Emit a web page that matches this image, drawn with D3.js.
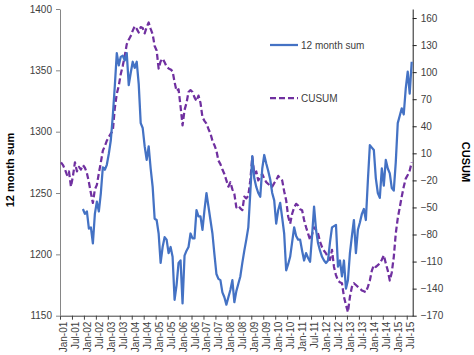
<!DOCTYPE html>
<html>
<head>
<meta charset="utf-8">
<script src="https://cdn.jsdelivr.net/npm/d3@7"></script>
<style>
  html, body { margin: 0; padding: 0; background: #fff; }
  svg { display: block; font-family: "Liberation Sans", Arial, sans-serif; }
</style>
</head>
<body>
<svg id="chart" width="474" height="355"></svg>
<script>
// Month index 0 = Jan-01 ... 176 = Sep-15
const monthCount = 177;
const tickLabels = ["Jan-01","Jul-01","Jan-02","Jul-02","Jan-03","Jul-03","Jan-04","Jul-04",
  "Jan-05","Jul-05","Jan-06","Jul-06","Jan-07","Jul-07","Jan-08","Jul-08","Jan-09","Jul-09",
  "Jan-10","Jul-10","Jan-11","Jul-11","Jan-12","Jul-12","Jan-13","Jul-13","Jan-14","Jul-14",
  "Jan-15","Jul-15"];
const leftTicks = [1150, 1200, 1250, 1300, 1350, 1400];
const rightTicks = [-170, -140, -110, -80, -50, -20, 10, 40, 70, 100, 130, 160];

// 12 month sum, starts at month 11 (Dec-01)
const sumStart = 11;
const sumValues = [
  1237,1233,1235,1221,1222,1209,1233,1243,1235,1250,1271,1269,1273,1282,1293,1313,1337,1364,1354,1361,
  1362,1358,1364,1338,1348,1357,1352,1357,1339,1307,1303,1288,1277,1288,1270,1255,1229,1228,1217,1193,
  1206,1214,1212,1201,1206,1198,1163,1175,1193,1195,1160,1199,1203,1206,1217,1213,1213,1236,1231,1231,
  1220,1236,1250,1239,1228,1217,1200,1184,1180,1179,1169,1165,1159,1165,1171,1179,1161,1170,1176,1182,
  1193,1203,1212,1222,1250,1280,1262,1255,1250,1247,1270,1281,1274,1268,1261,1250,1244,1225,1236,1242,
  1230,1217,1187,1192,1198,1210,1222,1215,1212,1212,1203,1195,1201,1197,1194,1215,1239,1220,1209,1203,
  1198,1195,1193,1195,1210,1222,1223,1224,1190,1195,1182,1195,1172,1179,1201,1215,1228,1201,1220,1226,
  1233,1237,1228,1260,1289,1287,1285,1262,1250,1246,1270,1256,1277,1270,1266,1254,1252,1275,1307,1313,
  1319,1314,1335,1349,1331,1357
];

// CUSUM, starts at month 0 (Jan-01)
const cusumValues = [
  0,-3,-8,-14,-10,-27,-15,0,-10,-5,-8,-3,-6,-12,-22,-34,-45,-30,-25,-12,
  0,13,18,24,28,32,35,60,76,85,98,107,118,131,136,140,146,151,148,144,
  150,149,143,150,155,148,142,129,124,104,112,115,111,106,104,103,101,89,79,81,
  62,41,58,66,78,80,78,72,68,74,66,50,46,43,37,32,24,19,13,2,
  -2,-8,-13,-20,-27,-22,-30,-35,-50,-48,-51,-53,-38,-40,-37,-20,6,-13,-10,-20,
  -16,-13,-18,-22,-24,-26,-27,-23,-20,-15,-18,-20,-32,-42,-60,-68,-57,-50,-46,-48,
  -52,-53,-64,-72,-79,-86,-80,-72,-75,-79,-88,-94,-98,-101,-105,-108,-97,-116,-125,-131,
  -133,-134,-149,-158,-166,-149,-138,-134,-136,-138,-140,-142,-143,-144,-138,-131,-120,-114,-116,-114,
  -112,-108,-103,-112,-120,-131,-122,-105,-79,-62,-50,-38,-27,-18,-14,-9,0
];

const seriesNames = ["12 month sum", "CUSUM"];
const colors = { sum: "#4472C4", cusum: "#7030A0" };

const svg = d3.select("#chart");
const plotL = 60, plotR = 412.7, plotT = 9, plotB = 315.7;

const x = d3.scaleLinear().domain([0, monthCount]).range([plotL, plotR]);
const yL = d3.scaleLinear().domain([1150, 1400]).range([plotB, plotT]);
const yR = d3.scaleLinear().domain([-170, 170]).range([plotB, plotT]);

const sumData = sumValues.map((v, k) => ({ i: sumStart + k, v }));
const cusumData = cusumValues.map((v, k) => ({ i: k, v }));

// Axes
const tickIdx = tickLabels.map((_, k) => k * 6);
const xAxis = d3.axisBottom(x).tickValues(tickIdx).tickSize(4).tickSizeOuter(0)
  .tickFormat((d, k) => tickLabels[k]);
const gx = svg.append("g").attr("transform", `translate(0,${plotB})`).call(xAxis);
gx.select(".domain").attr("stroke", "#404040").attr("stroke-width", 1);
gx.selectAll(".tick line").attr("stroke", "#404040");
gx.selectAll(".tick text")
  .attr("transform", "rotate(-90)")
  .attr("text-anchor", "end")
  .attr("x", -6).attr("y", 3).attr("dy", "0.35em")
  .attr("fill", "#404040").attr("font-size", 10)
  .attr("font-family", "Liberation Sans, Arial, sans-serif");

const gyL = svg.append("g").attr("transform", `translate(${plotL},0)`)
  .call(d3.axisLeft(yL).tickValues(leftTicks).tickSize(4).tickSizeOuter(0).tickFormat(d3.format("d")));
gyL.select(".domain").attr("stroke", "#868686");
gyL.selectAll(".tick line").attr("stroke", "#868686");
gyL.selectAll(".tick text").attr("x", -8).attr("fill", "#404040").attr("font-size", 10)
  .attr("font-family", "Liberation Sans, Arial, sans-serif");

const gyR = svg.append("g").attr("transform", `translate(${plotR},0)`)
  .call(d3.axisRight(yR).tickValues(rightTicks).tickSize(4).tickSizeOuter(0).tickFormat(d3.format("d")));
gyR.select(".domain").attr("stroke", "#202020");
gyR.selectAll(".tick line").attr("stroke", "#202020");
gyR.selectAll(".tick text").attr("x", 8).attr("fill", "#404040").attr("font-size", 10)
  .attr("font-family", "Liberation Sans, Arial, sans-serif");

// Lines
const lineSum = d3.line().x(d => x(d.i + 0.5)).y(d => yL(d.v));
const lineCusum = d3.line().x(d => x(d.i + 0.5)).y(d => yR(d.v));

svg.append("path").datum(cusumData).attr("d", lineCusum)
  .attr("fill", "none").attr("stroke", colors.cusum).attr("stroke-width", 2.25)
  .attr("stroke-dasharray", "6,3").attr("stroke-linejoin", "round");
svg.append("path").datum(sumData).attr("d", lineSum)
  .attr("fill", "none").attr("stroke", colors.sum).attr("stroke-width", 2.25)
  .attr("stroke-linejoin", "round");

// Axis titles
svg.append("text").attr("transform", `translate(10,170) rotate(-90)`)
  .attr("text-anchor", "middle").attr("dy", "0.35em")
  .attr("font-size", 11).attr("font-weight", "bold").attr("fill", "#000")
  .text("12 month sum");
svg.append("text").attr("transform", `translate(466,162) rotate(90)`)
  .attr("text-anchor", "middle").attr("dy", "0.35em")
  .attr("font-size", 11).attr("font-weight", "bold").attr("fill", "#000")
  .text("CUSUM");

// Legend
const legend = svg.append("g");
const legendItems = [
  { name: seriesNames[0], color: colors.sum, dash: null, y: 45 },
  { name: seriesNames[1], color: colors.cusum, dash: "6,3", y: 98 }
];
legendItems.forEach(it => {
  legend.append("line").attr("x1", 270).attr("x2", 298).attr("y1", it.y).attr("y2", it.y)
    .attr("stroke", it.color).attr("stroke-width", 2.25)
    .attr("stroke-dasharray", it.dash);
  legend.append("text").attr("x", 301).attr("y", it.y).attr("dy", "0.35em")
    .attr("font-size", 10).attr("fill", "#404040").text(it.name);
});
</script>
</body>
</html>
